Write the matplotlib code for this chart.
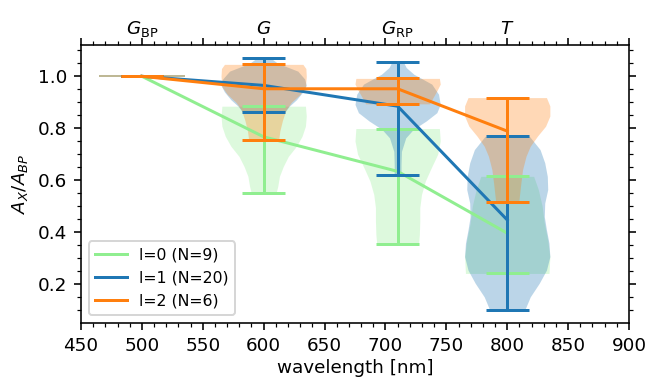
import numpy as np
import matplotlib.pyplot as plt
import matplotlib.transforms as mtransforms
from matplotlib.ticker import MultipleLocator

plt.rcParams['font.size'] = 9.2

band_names = [r'$G_\mathrm{BP}$', r'$G$', r'$G_\mathrm{RP}$', r'$T$']
band_wl = [500, 600, 710, 800]

labels = ['l=0 (N=9)', 'l=1 (N=20)', 'l=2 (N=6)']
colors = ['lightgreen', 'tab:blue', 'tab:orange']

# values joined by the lines, per band
ratio_l0 = [1.0, 0.767, 0.634, 0.396]
ratio_l1 = [1.0, 0.965, 0.885, 0.447]
ratio_l2 = [1.0, 0.952, 0.952, 0.789]

# violin shapes: (A_X/A_BP, relative width), top to bottom
# G_BP is 1 for every star, so its violin is flat
flat_bp = ([1.0, 1.0], [1.0, 1.0])

l0_G = ([0.885, 0.847, 0.808, 0.769, 0.731, 0.692, 0.653, 0.615, 0.576, 0.55],
        [0.98, 1.0, 0.98, 0.9, 0.77, 0.58, 0.46, 0.37, 0.33, 0.29])
l0_RP = ([0.799, 0.751, 0.700, 0.648, 0.597, 0.545, 0.494, 0.442, 0.391, 0.353],
         [0.98, 1.0, 0.94, 0.79, 0.65, 0.56, 0.52, 0.52, 0.51, 0.49])
l0_T = ([0.615, 0.564, 0.5, 0.435, 0.37, 0.306, 0.241],
        [0.62, 0.73, 0.82, 0.87, 0.95, 1.0, 0.98])

l1_G = ([1.072, 1.05, 1.02, 0.99, 0.965, 0.94, 0.91, 0.885, 0.863],
        [0.15, 0.33, 0.8, 0.96, 1.0, 0.92, 0.77, 0.6, 0.5])
l1_RP = ([1.057, 1.034, 1.008, 0.970, 0.931, 0.892, 0.860, 0.828, 0.796, 0.763, 0.711, 0.660, 0.621],
         [0.13, 0.2, 0.38, 0.8, 0.96, 1.0, 0.92, 0.67, 0.37, 0.19, 0.09, 0.08, 0.08])
l1_T = ([0.769, 0.718, 0.667, 0.615, 0.564, 0.512, 0.460, 0.409, 0.357, 0.306, 0.254, 0.203, 0.151, 0.100],
        [0.52, 0.77, 0.88, 0.94, 0.95, 0.88, 0.87, 0.92, 0.98, 1.0, 0.92, 0.75, 0.54, 0.41])

l2_G = ([1.046, 1.03, 1.0, 0.96, 0.93, 0.90, 0.87, 0.83, 0.79, 0.753],
        [0.92, 0.99, 1.0, 0.98, 0.85, 0.65, 0.52, 0.44, 0.38, 0.35])
l2_RP = ([0.992, 0.970, 0.944, 0.918, 0.894],
         [0.98, 1.0, 0.92, 0.83, 0.75])
l2_T = ([0.918, 0.886, 0.847, 0.808, 0.770, 0.731, 0.692, 0.641, 0.589, 0.516],
        [0.92, 1.0, 1.0, 0.9, 0.71, 0.54, 0.44, 0.36, 0.32, 0.27])

profiles = [[flat_bp, l0_G, l0_RP, l0_T],
            [flat_bp, l1_G, l1_RP, l1_T],
            [flat_bp, l2_G, l2_RP, l2_T]]
ratios = [ratio_l0, ratio_l1, ratio_l2]


def make_stats(profs, means):
    out = []
    for (ys, ws), m in zip(profs, means):
        out.append({'coords': np.array(ys), 'vals': np.array(ws),
                    'mean': m, 'median': m, 'min': min(ys), 'max': max(ys),
                    'quantiles': []})
    return out


fig = plt.figure(figsize=(649 / 144, 378 / 144), dpi=144)
ax = fig.add_axes([0.1248, 0.1463, 0.9692 - 0.1248, 0.881 - 0.1463])

for profs, rat, col, lab in zip(profiles, ratios, colors, labels):
    parts = ax.violin(make_stats(profs, rat), positions=band_wl, widths=70,
                      showextrema=True)
    for b, (ys, ws) in zip(parts['bodies'], profs):
        b.set_facecolor(col)
        b.set_edgecolor(col)
        b.set_alpha(0.3)
        # only the flat G_BP violin shows up as an edge line
        b.set_linewidth(1.0 if max(ys) == min(ys) else 0)
    for k in ('cbars', 'cmins', 'cmaxes'):
        parts[k].set_color(col)
        parts[k].set_linewidth(1.5)
    ax.plot(band_wl, rat, color=col, lw=1.5, label=lab)

ax.set_xlim(450, 900)
ax.xaxis.set_major_locator(MultipleLocator(50))
ax.xaxis.set_minor_locator(MultipleLocator(10))
ax.yaxis.set_major_locator(MultipleLocator(0.2))
ax.yaxis.set_minor_locator(MultipleLocator(0.05))
ax.tick_params(which='both', top=True, right=True)

# band names above the top axis
trans = mtransforms.blended_transform_factory(ax.transData, ax.transAxes)
for wl, name in zip(band_wl, band_names):
    ax.text(wl, 1.04, name, transform=trans, ha='center', va='baseline')

ax.set_xlabel('wavelength [nm]', labelpad=2)
ax.set_ylabel(r'$A_X/A_{BP}$')
ax.legend(loc='lower left', fontsize=7.9)

fig.savefig('out.png', dpi=144)
